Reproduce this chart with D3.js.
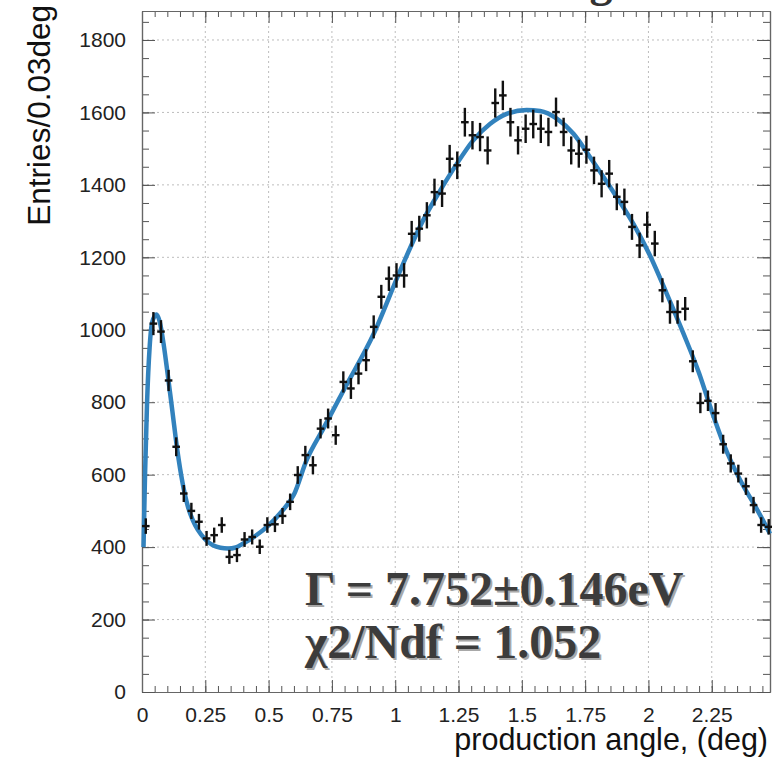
<!DOCTYPE html>
<html>
<head>
<meta charset="utf-8">
<script src="https://cdn.jsdelivr.net/npm/d3@7"></script>
<style>
  body { margin: 0; background: #fff; }
  text { font-family: "Liberation Sans", Arial, sans-serif; }
</style>
</head>
<body>
<svg id="main-svg" width="772" height="757"></svg>
<script>
// histogram: entries per 0.03 deg bin, bin 0 starts at 0
const binWidth = 0.03;
const counts = [458, 1017, 995, 860, 677, 548, 500, 470, 424, 433,
  461, 373, 378, 421, 428, 401, 461, 463, 486, 525,
  599, 654, 626, 727, 755, 709, 856, 838, 879, 916,
  1008, 1091, 1141, 1150, 1150, 1265, 1279, 1316, 1380, 1376,
  1472, 1454, 1573, 1537, 1532, 1495, 1626, 1647, 1573, 1523,
  1555, 1568, 1555, 1546, 1601, 1546, 1495, 1486, 1497, 1440,
  1403, 1431, 1367, 1353, 1284, 1233, 1290, 1238, 1109, 1049,
  1049, 1058, 913, 798, 804, 770, 684, 631, 603, 568,
  516, 461, 456];

// fitted curve
const fitX = [0.006, 0.012, 0.02, 0.03, 0.04, 0.057, 0.07, 0.085, 0.1, 0.12,
  0.14, 0.16, 0.18, 0.2, 0.22, 0.25, 0.28, 0.31, 0.34, 0.37,
  0.4, 0.45, 0.5, 0.55, 0.6, 0.65, 0.716, 0.8, 0.915, 1.02,
  1.11, 1.178, 1.243, 1.308, 1.374, 1.44, 1.519, 1.572, 1.638, 1.704,
  1.769, 1.848, 1.94, 2.006, 2.072, 2.138, 2.2, 2.25, 2.296, 2.362,
  2.428, 2.48];
const fitY = [400, 600, 800, 950, 1020, 1042, 1022, 962, 885, 775,
  665, 578, 515, 475, 448, 421, 405, 398, 396, 399,
  410, 432, 460, 497, 545, 640, 727, 838, 989, 1164,
  1302, 1385, 1458, 1523, 1568, 1596, 1607, 1604, 1583, 1541,
  1477, 1395, 1293, 1205, 1100, 990, 880, 775, 686, 585,
  505, 437];

const xTicks = [0, 0.25, 0.5, 0.75, 1, 1.25, 1.5, 1.75, 2, 2.25];
const yTicks = [0, 200, 400, 600, 800, 1000, 1200, 1400, 1600, 1800];
const fitLabels = ["\u0393 = 7.752\u00b10.146eV", "\u03c72/Ndf = 1.052"];
const xTitle = "production angle, (deg)";
const yTitle = "Entries/0.03deg";

const padL = 142, padR = 770, padT = 11, padB = 692;
const svg = d3.select("#main-svg");

const x = d3.scaleLinear().domain([0, 2.48]).range([padL, padR]);
const y = d3.scaleLinear().domain([0, 1880]).range([padB, padT]);

// grid
const grid = svg.append("g")
  .attr("stroke", "#bdbdbd")
  .attr("stroke-dasharray", "2,3")
  .attr("stroke-width", 1);
grid.selectAll(".gx").data(xTicks.slice(1)).join("line")
  .attr("x1", d => x(d)).attr("x2", d => x(d))
  .attr("y1", padT).attr("y2", padB);
grid.selectAll(".gy").data(yTicks.slice(1)).join("line")
  .attr("x1", padL).attr("x2", padR)
  .attr("y1", d => y(d)).attr("y2", d => y(d));

// axes, ROOT style ticks pointing inward
function styleAxis(g) {
  g.select(".domain").attr("stroke", "#666").attr("stroke-width", 1.2);
  g.selectAll(".tick line").attr("stroke", "#555").attr("stroke-width", 1);
  g.selectAll("text").attr("font-size", 21).attr("fill", "#222")
    .style("font-family", "'Liberation Sans', Arial, sans-serif");
}
const xMinor = d3.range(0, 2.48, 0.05);
const yMinor = d3.range(0, 1880, 50);

svg.append("g").attr("transform", `translate(0,${padB})`)
  .call(d3.axisBottom(x).tickValues(xMinor).tickFormat("").tickSizeInner(-6).tickSizeOuter(0))
  .call(styleAxis);
svg.append("g").attr("transform", `translate(0,${padB})`)
  .call(d3.axisBottom(x).tickValues(xTicks).tickFormat(d => String(d)).tickSizeInner(-12).tickSizeOuter(0).tickPadding(15))
  .call(styleAxis);
svg.append("g").attr("transform", `translate(0,${padT})`)
  .call(d3.axisTop(x).tickValues(xMinor).tickFormat("").tickSizeInner(-6).tickSizeOuter(0))
  .call(styleAxis);
svg.append("g").attr("transform", `translate(0,${padT})`)
  .call(d3.axisTop(x).tickValues(xTicks).tickFormat("").tickSizeInner(-12).tickSizeOuter(0))
  .call(styleAxis);

svg.append("g").attr("transform", `translate(${padL},0)`)
  .call(d3.axisLeft(y).tickValues(yMinor).tickFormat("").tickSizeInner(-7).tickSizeOuter(0))
  .call(styleAxis);
svg.append("g").attr("transform", `translate(${padL},0)`)
  .call(d3.axisLeft(y).tickValues(yTicks).tickFormat(d3.format("d")).tickSizeInner(-13).tickSizeOuter(0).tickPadding(16))
  .call(styleAxis);
svg.append("g").attr("transform", `translate(${padR},0)`)
  .call(d3.axisRight(y).tickValues(yMinor).tickFormat("").tickSizeInner(-7).tickSizeOuter(0))
  .call(styleAxis);
svg.append("g").attr("transform", `translate(${padR},0)`)
  .call(d3.axisRight(y).tickValues(yTicks).tickFormat("").tickSizeInner(-13).tickSizeOuter(0))
  .call(styleAxis);

// fit curve
svg.append("path")
  .datum(fitX.map((d, i) => [d, fitY[i]]))
  .attr("fill", "none")
  .attr("stroke", "#3282bd")
  .attr("stroke-width", 4.5)
  .attr("stroke-linejoin", "round")
  .attr("d", d3.line().x(d => x(d[0])).y(d => y(d[1])).curve(d3.curveMonotoneX));

// data points with errors
const pts = svg.append("g").attr("stroke", "#111").attr("stroke-width", 2.4);
counts.forEach((n, i) => {
  const c = binWidth * (i + 0.5);
  const err = Math.sqrt(n);
  pts.append("line")
    .attr("x1", x(c)).attr("x2", x(c))
    .attr("y1", y(n - err)).attr("y2", y(n + err));
  pts.append("line")
    .attr("x1", x(c - binWidth / 2)).attr("x2", x(c + binWidth / 2))
    .attr("y1", y(n)).attr("y2", y(n));
});

// fit result text with shadow
const fitText = svg.append("g")
  .attr("font-weight", "bold")
  .attr("font-size", 48);
[0, 1].forEach(layer => {
  fitText.selectAll(".l" + layer).data(fitLabels).join("text")
    .attr("class", "l" + layer)
    .attr("x", 305 + (layer === 0 ? 2 : 0))
    .attr("y", (d, i) => (i === 0 ? 605 : 658) + (layer === 0 ? 2 : 0))
    .attr("fill", layer === 0 ? "#a8a8a8" : "#3c3c3c")
    .style("font-family", "'Liberation Serif', 'Times New Roman', serif")
    .text(d => d);
});

// partially visible title above frame
svg.append("text")
  .attr("x", 601).attr("y", -4)
  .attr("text-anchor", "middle")
  .attr("font-size", 46).attr("font-weight", "bold")
  .attr("fill", "#333")
  .style("font-family", "'Liberation Serif', 'Times New Roman', serif")
  .text("g");

// axis titles
svg.append("text")
  .attr("x", 768).attr("y", 750)
  .attr("text-anchor", "end")
  .attr("font-size", 30.5).attr("fill", "#111")
  .text(xTitle);
svg.append("text")
  .attr("transform", "translate(50,5) rotate(-90)")
  .attr("text-anchor", "end")
  .attr("font-size", 31.5).attr("fill", "#111")
  .text(yTitle);
</script>
</body>
</html>
